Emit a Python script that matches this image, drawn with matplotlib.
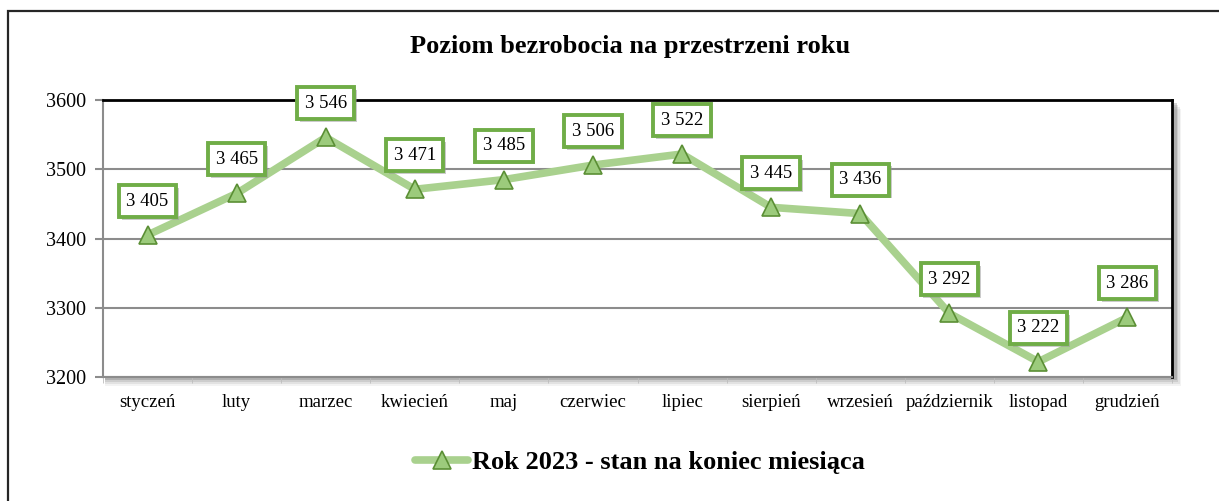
import matplotlib
matplotlib.use("Agg")
import matplotlib.pyplot as plt
import matplotlib.patheffects as pe
from matplotlib.patches import Rectangle
from matplotlib.ticker import FixedLocator

plt.rcParams['font.family'] = ['Liberation Serif', 'DejaVu Serif']

months = ["styczeń", "luty", "marzec", "kwiecień", "maj", "czerwiec",
          "lipiec", "sierpień", "wrzesień", "październik", "listopad", "grudzień"]
unemployed = [3405, 3465, 3546, 3471, 3485, 3506, 3522, 3445, 3436, 3292, 3222, 3286]
y_ticks = [3200, 3300, 3400, 3500, 3600]

title = "Poziom bezrobocia na przestrzeni roku"
series_label = "Rok 2023 - stan na koniec miesiąca"

line_color = "#A9D18E"
marker_face = "#9CCB7C"
marker_edge = "#5B8F35"
box_edge = "#70AD47"

W, H = 1219, 501
fig = plt.figure(figsize=(W / 100, H / 100), dpi=100)

# outer chart border (runs off the right/bottom of the picture)
fig.patches.append(Rectangle((8 / W, -0.1), 1.2, 1 - 11 / H + 0.1,
                             transform=fig.transFigure, fill=False,
                             edgecolor="#262626", linewidth=1.6, zorder=-2))

left, right, top, bottom = 103 / W, 1172 / W, 1 - 100 / H, 1 - 377 / H

# soft shadow behind the plot area
for i, a in enumerate([0.08, 0.12, 0.18, 0.3]):
    fig.patches.append(Rectangle((left + 2 / W, bottom - (9 - 2 * i) / H),
                                 right - left + (7 - 1.5 * i) / W, top - bottom,
                                 transform=fig.transFigure, facecolor="#6e6e6e",
                                 edgecolor="none", alpha=a, zorder=-1))

ax = fig.add_axes([left, bottom, right - left, top - bottom])
ax.set_facecolor("white")

x = list(range(len(months)))
ax.plot(x, unemployed, color=line_color, linewidth=5.5, solid_joinstyle="round",
        solid_capstyle="round", marker="^", markersize=13,
        markerfacecolor=marker_face, markeredgecolor=marker_edge,
        markeredgewidth=1.2, label=series_label, zorder=3)

for xi, v in zip(x, unemployed):
    txt = ax.annotate(f"{v // 1000} {v % 1000:03d}", (xi, v), xytext=(0, 34),
                      textcoords="offset pixels",
                      ha="center", va="center", fontsize=13.5, color="black",
                      zorder=5, annotation_clip=False,
                      bbox=dict(boxstyle="square,pad=0.4", facecolor="white",
                                edgecolor=box_edge, linewidth=2.8))
    txt.get_bbox_patch().set_path_effects(
        [pe.SimplePatchShadow(offset=(2, -2), shadow_rgbFace="#999999", alpha=0.5),
         pe.Normal()])

ax.set_xlim(-0.5, len(months) - 0.5)
ax.set_ylim(y_ticks[0], y_ticks[-1])
ax.set_yticks(y_ticks)
ax.set_xticks(x)
ax.set_xticklabels(months, fontsize=13.5)
ax.xaxis.set_minor_locator(FixedLocator([i - 0.5 for i in range(len(months) + 1)]))
ax.tick_params(axis="x", which="major", length=0, pad=12)
ax.tick_params(axis="x", which="minor", length=4, color="#bdbdbd", direction="out")
ax.tick_params(axis="y", length=6, width=1.5, color="#8c8c8c", labelsize=14.5, pad=6)

ax.grid(axis="y", color="#8c8c8c", linewidth=1.5, zorder=1)
ax.set_axisbelow(True)
for side in ["left", "bottom"]:
    ax.spines[side].set_color("#8c8c8c")
    ax.spines[side].set_linewidth(1.5)
for side in ["top", "right"]:
    ax.spines[side].set_color("black")
    ax.spines[side].set_linewidth(2)

fig.text(0.517, 1 - 46 / H, title, ha="center", va="center",
         fontsize=19, fontweight="bold")

fig.legend(loc="center", bbox_to_anchor=(640 / W, 1 - 462 / H), frameon=False,
           prop=dict(size=19, weight="bold"), handlelength=2.0,
           handletextpad=0.15, markerscale=1.0)

fig.savefig("out.png", dpi=100, facecolor="white")
